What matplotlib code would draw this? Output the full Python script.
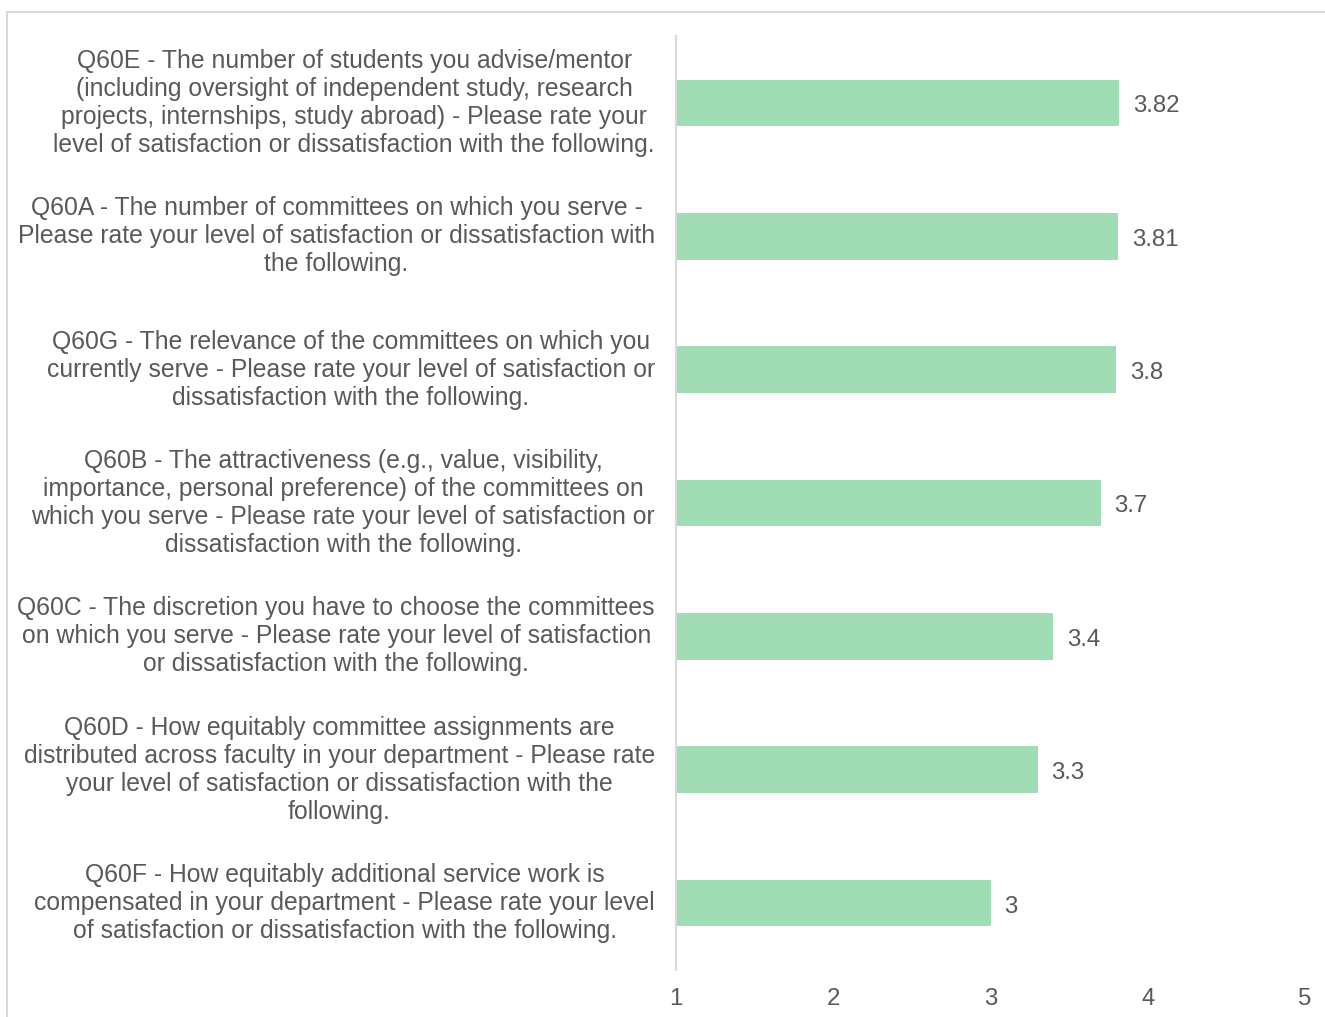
import matplotlib
matplotlib.use("Agg")
import matplotlib.pyplot as plt
from matplotlib.lines import Line2D

plt.rcParams['font.family'] = ['Liberation Sans', 'DejaVu Sans']

categories = [
    "Q60E - The number of students you advise/mentor\n(including oversight of independent study, research\nprojects, internships, study abroad) - Please rate your\nlevel of satisfaction or dissatisfaction with the following.",
    "Q60A - The number of committees on which you serve -\nPlease rate your level of satisfaction or dissatisfaction with\nthe following.",
    "Q60G - The relevance of the committees on which you\ncurrently serve - Please rate your level of satisfaction or\ndissatisfaction with the following.",
    "Q60B - The attractiveness (e.g., value, visibility,\nimportance, personal preference) of the committees on\nwhich you serve - Please rate your level of satisfaction or\ndissatisfaction with the following.",
    "Q60C - The discretion you have to choose the committees\non which you serve - Please rate your level of satisfaction\nor dissatisfaction with the following.",
    "Q60D - How equitably committee assignments are\ndistributed across faculty in your department - Please rate\nyour level of satisfaction or dissatisfaction with the\nfollowing.",
    "Q60F - How equitably additional service work is\ncompensated in your department - Please rate your level\nof satisfaction or dissatisfaction with the following.",
]
values = [3.82, 3.81, 3.8, 3.7, 3.4, 3.3, 3.0]
value_labels = ["3.82", "3.81", "3.8", "3.7", "3.4", "3.3", "3"]
xticks = [1, 2, 3, 4, 5]

W, H = 1325, 1017
fig = plt.figure(figsize=(W / 100, H / 100), dpi=100)
ax = fig.add_axes([676 / W, 1 - 969.7 / H, (1305 - 676) / W, (969.7 - 36.3) / H])

text_color = "#595959"
bar_color = "#A0DCB4"
grid_color = "#D9D9D9"

ypos = list(range(len(categories)))
ax.barh(ypos, [v - 1 for v in values], left=1, height=0.35, color=bar_color, zorder=2)
ax.set_xlim(1, 5)
ax.set_ylim(len(categories) - 0.5, -0.5)

for y, v, lab in zip(ypos, values, value_labels):
    ax.annotate(lab, xy=(v, y), xytext=(10, -2.5), textcoords="offset points",
                ha="left", va="center", fontsize=17.3, color=text_color)

for y, cat in zip(ypos, categories):
    ax.text(-0.0334, y, cat, transform=ax.get_yaxis_transform(), ha="right", va="center",
            multialignment="center", fontsize=17.8, color=text_color, linespacing=1.21)

ax.set_yticks([])
ax.set_xticks(xticks)
ax.set_xticklabels([str(t) for t in xticks], fontsize=17.3, color=text_color)
ax.tick_params(axis="x", length=0, pad=13)
for s in ["top", "right", "bottom"]:
    ax.spines[s].set_visible(False)
ax.spines["left"].set_color(grid_color)
ax.spines["left"].set_linewidth(1.5)

# outer border
fig.add_artist(Line2D([7 / W, 1.0], [1 - 12 / H, 1 - 12 / H], transform=fig.transFigure,
                      color=grid_color, linewidth=1.5))
fig.add_artist(Line2D([7 / W, 7 / W], [1 - 12 / H, 0], transform=fig.transFigure,
                      color=grid_color, linewidth=1.5))

fig.savefig("out.png", dpi=100)
